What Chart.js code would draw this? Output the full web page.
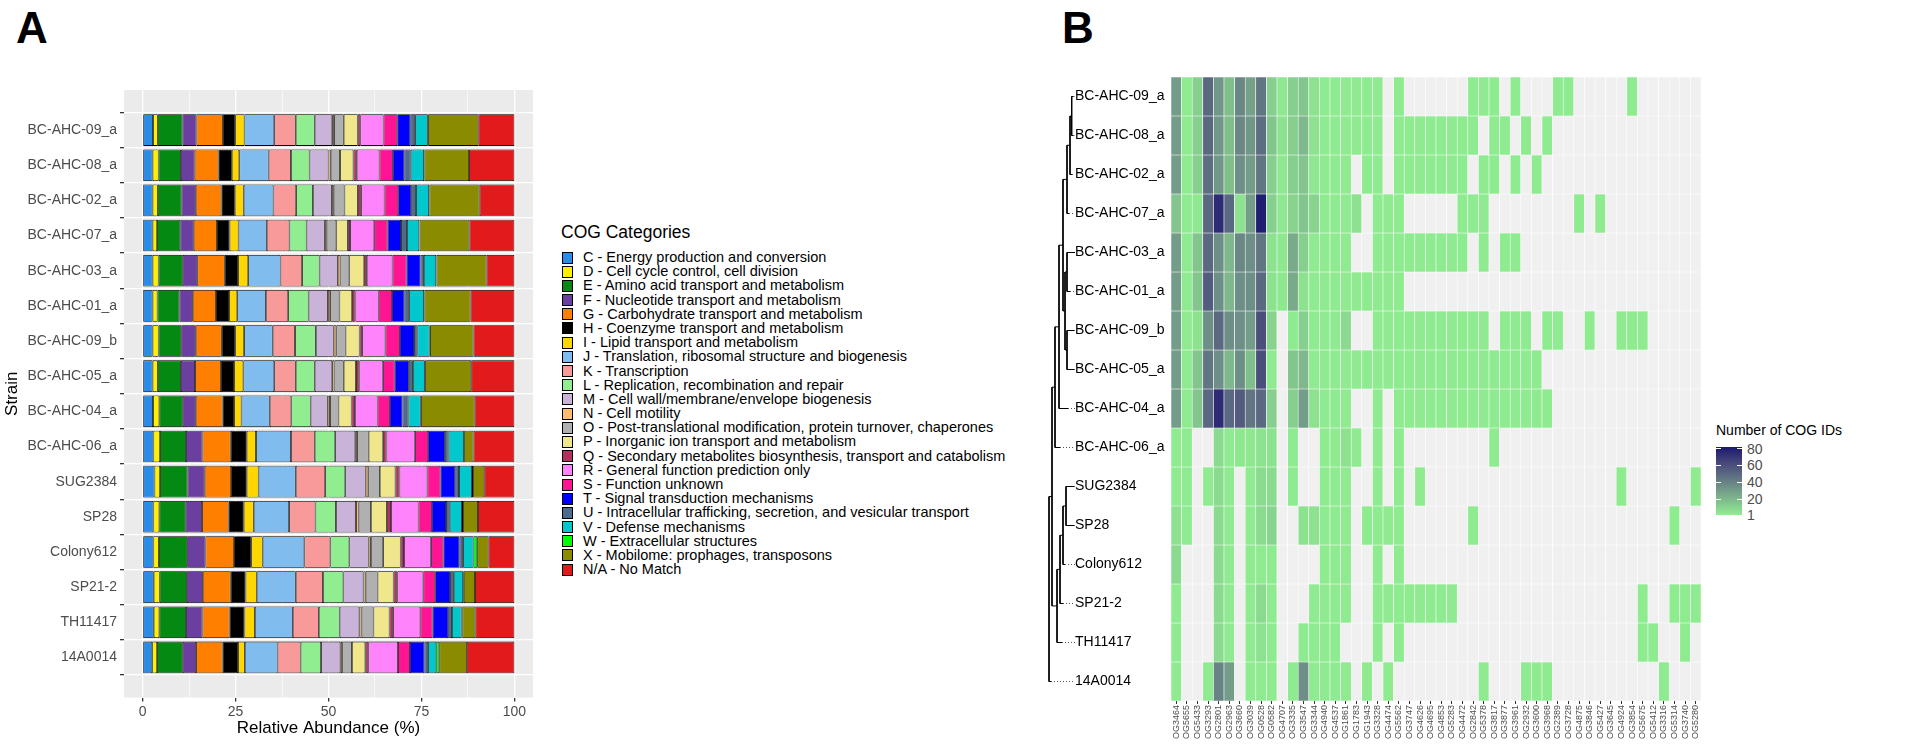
<!DOCTYPE html>
<html>
<head>
<meta charset="utf-8">
<title>COG categories and COG IDs per strain</title>
<style>
  body { margin: 0; background: #fff; font-family: "Liberation Sans", Arial, sans-serif; }
  #page { position: relative; width: 1907px; height: 751px; overflow: hidden; }
  canvas { position: absolute; top: 0; }
  .tag { position: absolute; font-weight: bold; font-size: 44px; line-height: 44px; }
  #legend { position: absolute; left: 561px; top: 221px; }
  #legend .ttl { font-size: 17.5px; line-height: 22px; margin-bottom: 7px; }
  #legend .item { position: relative; height: 14.2px; font-size: 14.5px; line-height: 14.2px; padding-left: 22px; white-space: nowrap; }
  #legend .sw { position: absolute; left: 1px; top: 1.5px; width: 9px; height: 10px; border: 0.8px solid #000; }
  #cbar { position: absolute; }
  .cbl { position: absolute; font-size: 14px; line-height: 14px; color: #4d4d4d; }
</style>
</head>
<body>
<div id="page">
  <div class="tag" style="left:16px; top:6px;">A</div>
  <div class="tag" style="left:1062px; top:6px;">B</div>
  <canvas id="barChart" width="545" height="751" style="left:0px;"></canvas>
  <div id="legend"></div>
  <canvas id="treeChart" width="40" height="751" style="left:1040px;"></canvas>
  <canvas id="heatChart" width="640" height="751" style="left:1070px;"></canvas>
  <div id="cbarBox"></div>
</div>

<script src="https://cdn.jsdelivr.net/npm/chart.js"></script>
<script>
  // strains, top to bottom
  var strains = ['BC-AHC-09_a', 'BC-AHC-08_a', 'BC-AHC-02_a', 'BC-AHC-07_a', 'BC-AHC-03_a', 'BC-AHC-01_a',
                 'BC-AHC-09_b', 'BC-AHC-05_a', 'BC-AHC-04_a', 'BC-AHC-06_a', 'SUG2384', 'SP28',
                 'Colony612', 'SP21-2', 'TH11417', '14A0014'];

  var cogNames = [
    'C - Energy production and conversion',
    'D - Cell cycle control, cell division',
    'E - Amino acid transport and metabolism',
    'F - Nucleotide transport and metabolism',
    'G - Carbohydrate transport and metabolism',
    'H - Coenzyme transport and metabolism',
    'I - Lipid transport and metabolism',
    'J - Translation, ribosomal structure and biogenesis',
    'K - Transcription',
    'L - Replication, recombination and repair',
    'M - Cell wall/membrane/envelope biogenesis',
    'N - Cell motility',
    'O - Post-translational modification, protein turnover, chaperones',
    'P - Inorganic ion transport and metabolism',
    'Q - Secondary metabolites biosynthesis, transport and catabolism',
    'R - General function prediction only',
    'S - Function unknown',
    'T - Signal transduction mechanisms',
    'U - Intracellular trafficking, secretion, and vesicular transport',
    'V - Defense mechanisms',
    'W - Extracellular structures',
    'X - Mobilome: prophages, transposons',
    'N/A - No Match'
  ];

  var cogColors = ['#2b8ce8', '#fff000', '#048a12', '#6b3fa0', '#ff8000', '#000000', '#ffd700', '#80bdee',
                   '#f8999a', '#90ee90', '#c9b3d9', '#fdbf6f', '#b0b0b0', '#f0e68c', '#b03060', '#ff83fa',
                   '#ff1493', '#0000ff', '#4d6b8c', '#00c8cc', '#00ff00', '#8b8b00', '#e31a1c'];

  // relative abundance (%) per strain, in the order of cogNames
  var abundance = [
    [2.8, 1.3, 6.6, 3.8, 7.1, 3.3, 2.5, 8.0, 5.8, 5.1, 4.7, 0.5, 2.6, 3.75, 0.7, 6.25, 3.7, 3.5, 1.3, 3.4, 0.1, 13.5, 9.7],
    [2.7, 1.6, 6.0, 3.7, 6.4, 3.6, 2.0, 7.9, 6.0, 5.0, 5.1, 0.6, 2.5, 3.6, 0.9, 6.1, 3.6, 3.1, 1.7, 3.6, 0.1, 12.0, 12.2],
    [2.7, 1.4, 6.4, 3.8, 6.9, 3.6, 2.4, 8.0, 6.1, 4.5, 5.1, 0.5, 2.9, 3.6, 0.9, 6.25, 3.7, 3.5, 1.3, 3.5, 0.1, 13.5, 9.35],
    [2.7, 1.2, 6.25, 3.6, 6.25, 3.4, 2.4, 7.6, 6.1, 4.6, 4.9, 0.5, 2.6, 3.1, 0.6, 6.5, 3.6, 3.6, 1.6, 3.3, 0.1, 13.4, 12.1],
    [2.7, 1.6, 6.5, 3.9, 7.4, 3.6, 2.7, 8.7, 5.8, 4.7, 4.9, 0.7, 2.4, 4.0, 0.7, 6.9, 3.8, 3.75, 0.9, 3.3, 0.1, 13.45, 7.5],
    [2.7, 1.3, 5.9, 3.6, 6.25, 3.5, 2.2, 7.7, 6.0, 5.5, 5.2, 0.6, 2.5, 3.4, 0.9, 6.25, 3.6, 3.3, 1.3, 4.0, 0.1, 12.4, 11.8],
    [2.7, 1.6, 6.1, 3.9, 7.0, 3.6, 2.4, 7.7, 6.0, 5.6, 4.8, 0.7, 2.5, 3.75, 0.7, 6.25, 3.9, 3.8, 0.9, 3.3, 0.1, 11.7, 11.0],
    [2.7, 1.4, 6.2, 3.8, 7.0, 3.5, 2.5, 8.3, 5.8, 5.1, 4.7, 0.6, 2.5, 3.3, 0.9, 6.4, 3.1, 3.8, 1.1, 3.2, 0.1, 12.4, 11.6],
    [2.8, 1.7, 6.3, 3.5, 7.2, 3.1, 2.0, 7.6, 5.8, 5.2, 4.6, 0.6, 2.3, 3.5, 0.9, 6.1, 3.3, 3.4, 1.6, 3.3, 0.1, 14.4, 10.7],
    [2.9, 1.8, 7.0, 4.4, 7.6, 4.3, 2.5, 9.4, 6.4, 5.5, 5.4, 0.5, 3.1, 3.9, 0.9, 7.7, 3.5, 4.5, 1.0, 4.1, 0.1, 2.5, 11.0],
    [3.2, 1.5, 7.4, 4.6, 7.1, 4.2, 3.2, 10.0, 7.9, 5.4, 5.5, 0.7, 3.1, 4.2, 1.1, 7.5, 3.5, 4.0, 1.0, 3.5, 0.3, 3.0, 8.1],
    [2.9, 1.6, 7.1, 4.4, 7.1, 4.1, 2.7, 9.5, 7.1, 5.5, 5.4, 0.7, 3.3, 4.3, 1.1, 7.4, 3.6, 3.8, 1.0, 3.3, 0.3, 4.0, 9.8],
    [2.9, 1.5, 7.6, 4.9, 7.7, 4.6, 3.1, 11.2, 7.0, 5.1, 5.2, 0.6, 3.3, 4.7, 0.9, 7.3, 3.3, 4.3, 1.0, 2.8, 1.0, 3.0, 7.0],
    [3.0, 1.6, 7.3, 4.3, 7.5, 4.0, 3.0, 10.5, 7.3, 5.5, 5.4, 0.6, 3.2, 4.3, 1.0, 7.0, 3.2, 4.0, 1.0, 2.5, 0.2, 3.0, 10.6],
    [3.0, 1.5, 7.2, 4.4, 7.3, 4.0, 2.8, 10.2, 7.0, 5.6, 5.3, 0.6, 3.2, 4.3, 1.0, 7.3, 3.3, 4.2, 1.0, 2.6, 0.2, 3.5, 10.5],
    [2.6, 1.3, 6.9, 3.6, 7.1, 4.2, 1.8, 8.8, 6.2, 5.5, 5.2, 0.5, 2.6, 3.6, 0.8, 8.0, 3.2, 3.9, 1.0, 2.2, 0.8, 7.4, 12.8]
  ];

  var xTicksA = [0, 12.5, 25, 37.5, 50, 62.5, 75, 87.5, 100];
  var xLabelsA = [0, 25, 50, 75, 100];

  // heatmap columns
  var ogIds = ['OG3464', 'OG5655', 'OG5433', 'OG3293', 'OG2801', 'OG2963', 'OG3660', 'OG3039', 'OG0528', 'OG0582',
               'OG4707', 'OG3335', 'OG3547', 'OG3344', 'OG4940', 'OG4537', 'OG1861', 'OG1783', 'OG1943', 'OG3328',
               'OG4474', 'OG5562', 'OG3747', 'OG4626', 'OG4695', 'OG4853', 'OG5283', 'OG4472', 'OG2842', 'OG5378',
               'OG3817', 'OG3877', 'OG3961', 'OG2932', 'OG3600', 'OG3968', 'OG2389', 'OG3728', 'OG4875', 'OG3846',
               'OG5427', 'OG3645', 'OG4924', 'OG3854', 'OG5675', 'OG5412', 'OG3316', 'OG5314', 'OG3740', 'OG5280'];

  // number of COG IDs per strain (rows) and orthogroup (columns); 0 = absent
  var ogCounts = [
    [30, 2, 12, 50, 32, 18, 38, 28, 45, 12, 3, 12, 15, 5, 2, 2, 2, 2, 2, 2, 0, 2, 0, 0, 0,   0, 0, 0, 2, 2, 2, 0, 2, 0, 0, 0, 2, 2, 0, 0, 0, 0, 0, 2, 0, 0, 0, 0, 0, 0],
    [30, 2, 12, 50, 32, 18, 38, 32, 48, 15, 5, 12, 20, 5, 2, 2, 2, 2, 2, 2, 0, 2, 2, 2, 2,   2, 2, 2, 2, 0, 2, 2, 0, 2, 0, 2, 0, 0, 0, 0, 0, 0, 0, 0, 0, 0, 0, 0, 0, 0],
    [30, 2, 12, 48, 32, 18, 35, 30, 45, 12, 3, 12, 15, 3, 2, 2, 2, 0, 2, 2, 0, 2, 2, 2, 2,   2, 2, 2, 0, 2, 2, 0, 2, 0, 2, 0, 0, 0, 0, 0, 0, 0, 0, 0, 0, 0, 0, 0, 0, 0],
    [15, 2, 3, 50, 75, 50, 5, 30, 80, 12, 3, 10, 15, 10, 2, 2, 2, 5, 0, 2, 2, 2, 0, 0, 0,    0, 0, 2, 2, 2, 0, 0, 0, 0, 0, 0, 0, 0, 2, 0, 2, 0, 0, 0, 0, 0, 0, 0, 0, 0],
    [30, 2, 15, 50, 35, 20, 38, 35, 45, 5, 3, 25, 12, 2, 2, 2, 2, 0, 0, 2, 2, 2, 2, 2, 2,    2, 2, 2, 0, 2, 0, 2, 2, 0, 0, 0, 0, 0, 0, 0, 0, 0, 0, 0, 0, 0, 0, 0, 0, 0],
    [30, 2, 15, 55, 35, 20, 35, 35, 50, 5, 3, 25, 5, 2, 2, 2, 2, 2, 2, 2, 2, 2, 0, 0, 0,     0, 0, 0, 0, 0, 0, 0, 0, 0, 0, 0, 0, 0, 0, 0, 0, 0, 0, 0, 0, 0, 0, 0, 0, 0],
    [30, 2, 5, 35, 50, 35, 35, 30, 60, 10, 0, 2, 12, 2, 2, 2, 8, 0, 0, 2, 2, 2, 2, 2, 2,     2, 2, 2, 2, 2, 0, 2, 2, 2, 0, 2, 2, 0, 0, 2, 0, 0, 2, 2, 2, 0, 0, 0, 0, 0],
    [30, 2, 15, 45, 35, 20, 35, 18, 60, 2, 0, 15, 20, 2, 2, 2, 2, 2, 2, 2, 2, 2, 2, 2, 2,    2, 2, 2, 2, 2, 2, 2, 2, 2, 2, 0, 0, 0, 0, 0, 0, 0, 0, 0, 0, 0, 0, 0, 0, 0],
    [30, 2, 15, 50, 75, 50, 55, 45, 50, 12, 0, 12, 30, 5, 2, 2, 2, 0, 0, 2, 0, 2, 2, 2, 2,   2, 2, 2, 2, 2, 2, 2, 2, 2, 2, 2, 0, 0, 0, 0, 0, 0, 0, 0, 0, 0, 0, 0, 0, 0],
    [2, 2, 0, 0, 8, 2, 3, 3, 5, 5, 0, 2, 0, 0, 2, 2, 5, 2, 0, 2, 0, 2, 0, 0, 0,              0, 0, 0, 0, 0, 2, 0, 0, 0, 0, 0, 0, 0, 0, 0, 0, 0, 0, 0, 0, 0, 0, 0, 0, 0],
    [2, 2, 0, 2, 8, 2, 0, 2, 8, 8, 0, 2, 0, 0, 2, 2, 2, 0, 0, 2, 0, 2, 0, 2, 0,              0, 0, 0, 0, 0, 0, 0, 0, 0, 0, 0, 0, 0, 0, 0, 0, 0, 2, 0, 0, 0, 0, 0, 0, 2],
    [5, 2, 0, 0, 8, 2, 0, 2, 8, 10, 0, 0, 5, 5, 2, 2, 2, 0, 2, 2, 2, 2, 0, 0, 0,             0, 0, 0, 2, 0, 0, 0, 0, 0, 0, 0, 0, 0, 0, 0, 0, 0, 0, 0, 0, 0, 0, 2, 0, 0],
    [8, 0, 0, 0, 8, 2, 0, 2, 2, 2, 0, 0, 0, 0, 2, 2, 2, 0, 0, 2, 0, 2, 0, 0, 0,              0, 0, 0, 0, 0, 0, 0, 0, 0, 0, 0, 0, 0, 0, 0, 0, 0, 0, 0, 0, 0, 0, 0, 0, 0],
    [2, 0, 0, 0, 8, 2, 0, 2, 8, 2, 0, 0, 0, 2, 2, 2, 2, 0, 0, 2, 2, 2, 2, 2, 2,              2, 2, 0, 0, 0, 0, 0, 0, 0, 0, 0, 0, 0, 0, 0, 0, 0, 0, 0, 2, 0, 0, 2, 2, 2],
    [2, 0, 0, 0, 8, 2, 0, 2, 5, 2, 0, 0, 2, 2, 2, 2, 0, 0, 0, 2, 0, 2, 0, 0, 0,              0, 0, 0, 0, 0, 0, 0, 0, 0, 0, 0, 0, 0, 0, 0, 0, 0, 0, 0, 2, 2, 0, 0, 2, 0],
    [2, 0, 0, 2, 40, 30, 0, 2, 2, 2, 0, 2, 35, 2, 2, 2, 2, 0, 2, 0, 2, 0, 0, 0, 0,           0, 0, 0, 0, 2, 0, 0, 0, 2, 2, 2, 0, 0, 0, 0, 0, 0, 0, 0, 0, 0, 2, 0, 0, 0]
  ];
  var countLimits = [1, 82];
  var countBreaks = [1, 20, 40, 60, 80];

  // tree: merges in hclust style (negative = leaf number, positive = earlier merge), with node depth
  var treeMerge = [[-1, -2], [1, -3], [2, -4], [-5, -6], [-7, -8], [4, 5], [3, 6], [7, -9], [8, -10],
                   [-11, -12], [10, -13], [11, -14], [12, -15], [9, 13], [14, -16]];
  var treeDepth = [23.7, 22, 19, 19, 19, 17, 15, 11, 7, 18, 15, 12, 9, 4, 1];
  var tipDepth = [25.5, 25.5, 24, 21, 27, 22, 26.5, 26.5, 20, 12, 26.5, 26.5, 17, 15, 14, 3];
  var labelDepth = 27;

  Chart.defaults.font.family = '"Liberation Sans", Arial, sans-serif';
  Chart.defaults.color = '#4d4d4d';

  // ---------- legend for panel A ----------
  var legend = document.getElementById('legend');
  var html = '<div class="ttl">COG Categories</div>';
  cogNames.forEach(function (name, k) {
    html += '<div class="item"><span class="sw" style="background:' + cogColors[k] + '"></span>' + name + '</div>';
  });
  legend.innerHTML = html;

  // ---------- panel A : stacked bars ----------
  const panelBg = {
    id: 'panelBg',
    beforeDraw(chart, args, opts) {
      const a = chart.chartArea, ctx = chart.ctx;
      ctx.save();
      ctx.fillStyle = opts.color;
      ctx.fillRect(a.left, a.top, a.right - a.left, a.bottom - a.top);
      ctx.restore();
    }
  };

  new Chart(document.getElementById('barChart'), {
    type: 'bar',
    data: {
      datasets: cogNames.map(function (name, k) {
        return {
          label: name,
          data: strains.map(function (s, i) { return { x: abundance[i][k], y: i }; }),
          backgroundColor: cogColors[k],
          borderColor: '#000000',
          borderWidth: 0.8,
          borderSkipped: false,
          barPercentage: 0.9,
          categoryPercentage: 1
        };
      })
    },
    options: {
      indexAxis: 'y',
      responsive: false,
      animation: false,
      layout: { padding: { top: 90, right: 12, left: 0, bottom: 0 } },
      plugins: { legend: { display: false }, tooltip: { enabled: false }, panelBg: { color: '#ebebeb' } },
      scales: {
        x: {
          type: 'linear', stacked: true, min: -5, max: 105,
          afterBuildTicks: function (ax) { ax.ticks = xTicksA.map(function (v) { return { value: v }; }); },
          afterFit: function (ax) { ax.height = 751 - 697.5; },
          border: { display: false },
          grid: {
            color: '#ffffff',
            lineWidth: function (c) { return xLabelsA.indexOf(c.tick.value) >= 0 ? 1.3 : 0.6; },
            tickColor: function (c) { return xLabelsA.indexOf(c.tick.value) >= 0 ? '#333333' : 'rgba(0,0,0,0)'; },
            tickLength: 4
          },
          ticks: {
            autoSkip: false, maxRotation: 0, padding: 2, color: '#4d4d4d', font: { size: 14 },
            callback: function (v) { return xLabelsA.indexOf(v) >= 0 ? v : ''; }
          },
          title: { display: true, text: 'Relative Abundance (%)', color: '#000', font: { size: 17 }, padding: { top: 2, bottom: 12 } }
        },
        y: {
          type: 'linear', stacked: true, reverse: true, min: -0.6, max: 15.6,
          afterBuildTicks: function (ax) { ax.ticks = strains.map(function (s, i) { return { value: i }; }); },
          afterFit: function (ax) { ax.width = 124; },
          border: { display: false },
          grid: { color: '#ffffff', lineWidth: 1.3, tickColor: '#333333', tickLength: 4 },
          ticks: { color: '#4d4d4d', font: { size: 14 }, padding: 3, callback: function (v) { return strains[v]; } },
          title: { display: true, text: 'Strain', color: '#000', font: { size: 17 }, padding: { top: 2, bottom: 0 } }
        }
      }
    },
    plugins: [panelBg]
  });

  // ---------- colour scale (Lab interpolation, lightgreen -> midnightblue) ----------
  function hexToRgb(h) { return [1, 3, 5].map(function (i) { return parseInt(h.substr(i, 2), 16); }); }
  function rgbToLab(c) {
    var lin = function (v) { v /= 255; return v <= 0.04045 ? v / 12.92 : Math.pow((v + 0.055) / 1.055, 2.4); };
    var R = lin(c[0]), G = lin(c[1]), B = lin(c[2]);
    var X = (R * 0.4124 + G * 0.3576 + B * 0.1805) / 0.95047;
    var Y = R * 0.2126 + G * 0.7152 + B * 0.0722;
    var Z = (R * 0.0193 + G * 0.1192 + B * 0.9505) / 1.08883;
    var f = function (t) { return t > 0.008856 ? Math.cbrt(t) : 7.787 * t + 16 / 116; };
    return [116 * f(Y) - 16, 500 * (f(X) - f(Y)), 200 * (f(Y) - f(Z))];
  }
  function labToRgb(l) {
    var fy = (l[0] + 16) / 116, fx = fy + l[1] / 500, fz = fy - l[2] / 200;
    var inv = function (t) { return t * t * t > 0.008856 ? t * t * t : (t - 16 / 116) / 7.787; };
    var X = inv(fx) * 0.95047, Y = inv(fy), Z = inv(fz) * 1.08883;
    var R = X * 3.2406 - Y * 1.5372 - Z * 0.4986;
    var G = -X * 0.9689 + Y * 1.8758 + Z * 0.0415;
    var B = X * 0.0557 - Y * 0.2040 + Z * 1.0570;
    var gam = function (v) { v = v <= 0.0031308 ? 12.92 * v : 1.055 * Math.pow(v, 1 / 2.4) - 0.055; return Math.round(Math.min(1, Math.max(0, v)) * 255); };
    return [gam(R), gam(G), gam(B)];
  }
  var labLow = rgbToLab(hexToRgb('#90ee90'));
  var labHigh = rgbToLab(hexToRgb('#191970'));
  function countColor(v) {
    if (!v) return '#f0f0f0';
    var t = Math.min(1, Math.max(0, (v - countLimits[0]) / (countLimits[1] - countLimits[0])));
    var rgb = labToRgb([0, 1, 2].map(function (i) { return labLow[i] + (labHigh[i] - labLow[i]) * t; }));
    return 'rgb(' + rgb.join(',') + ')';
  }

  // ---------- panel B : heatmap ----------
  new Chart(document.getElementById('heatChart'), {
    type: 'bar',
    data: {
      labels: ogIds,
      datasets: strains.map(function (s, r) {
        return {
          label: s,
          data: ogIds.map(function () { return [r, r + 1]; }),
          backgroundColor: ogCounts[r].map(countColor),
          borderColor: '#ffffff',
          borderWidth: 0.6,
          borderSkipped: false,
          grouped: false,
          barPercentage: 1,
          categoryPercentage: 1
        };
      })
    },
    options: {
      responsive: false,
      animation: false,
      layout: { padding: { left: 5, top: 77, right: 9, bottom: 0 } },
      plugins: { legend: { display: false }, tooltip: { enabled: false } },
      scales: {
        x: {
          afterFit: function (ax) { ax.height = 50; },
          border: { display: false },
          grid: { offset: false, drawOnChartArea: false, tickColor: '#333333', tickLength: 3 },
          ticks: { autoSkip: false, minRotation: 90, maxRotation: 90, padding: 1, color: '#4d4d4d', font: { size: 9 } }
        },
        y: {
          type: 'linear', min: 0, max: 16, reverse: true,
          afterBuildTicks: function (ax) { ax.ticks = strains.map(function (s, i) { return { value: i + 0.5 }; }); },
          afterFit: function (ax) { ax.width = 96; },
          border: { display: false },
          grid: { display: false },
          ticks: { crossAlign: 'far', color: '#000', font: { size: 14 }, callback: function (v) { return strains[Math.floor(v)]; } }
        }
      }
    }
  });

  // ---------- dendrogram ----------
  var nodeY = [], solid = [], dotted = [];
  function childY(id) { return id < 0 ? -id - 1 : nodeY[id - 1]; }
  function childDepth(id) { return id < 0 ? tipDepth[-id - 1] : treeDepth[id - 1]; }
  treeMerge.forEach(function (m, n) {
    var ya = childY(m[0]), yb = childY(m[1]), d = treeDepth[n];
    nodeY[n] = (ya + yb) / 2;
    solid.push({ x: d, y: ya }, { x: d, y: yb }, { x: null, y: null });
    solid.push({ x: d, y: ya }, { x: childDepth(m[0]), y: ya }, { x: null, y: null });
    solid.push({ x: d, y: yb }, { x: childDepth(m[1]), y: yb }, { x: null, y: null });
  });
  tipDepth.forEach(function (t, i) {
    if (t < labelDepth) dotted.push({ x: t, y: i }, { x: labelDepth, y: i }, { x: null, y: null });
  });

  new Chart(document.getElementById('treeChart'), {
    type: 'scatter',
    data: {
      datasets: [
        { data: solid, showLine: true, spanGaps: false, borderColor: '#000', borderWidth: 1, pointRadius: 0, clip: false },
        { data: dotted, showLine: true, spanGaps: false, borderColor: '#555', borderWidth: 1, borderDash: [1, 2], pointRadius: 0, clip: false }
      ]
    },
    options: {
      responsive: false,
      animation: false,
      layout: { padding: { left: 8, right: 5, top: 77 + 19.5, bottom: 50 + 19.5 } },
      plugins: { legend: { display: false }, tooltip: { enabled: false } },
      scales: {
        x: { type: 'linear', display: false, min: 0, max: labelDepth },
        y: { type: 'linear', display: false, min: 0, max: strains.length - 1, reverse: true }
      }
    }
  });

  // ---------- colour bar ----------
  (function () {
    var box = document.getElementById('cbarBox');
    var left = 1716, top = 447, w = 26, h = 68;
    var stops = [];
    for (var i = 0; i <= 10; i++) {
      var v = countLimits[1] - (countLimits[1] - countLimits[0]) * i / 10;
      stops.push(countColor(v) + ' ' + (i * 10) + '%');
    }
    var out = '<div class="cbl" style="left:' + left + 'px; top:' + (top - 24) + 'px; color:#000; font-size:14px;">Number of COG IDs</div>';
    out += '<div id="cbar" style="left:' + left + 'px; top:' + top + 'px; width:' + w + 'px; height:' + h + 'px; background:linear-gradient(' + stops.join(',') + ');"></div>';
    countBreaks.forEach(function (b) {
      var y = top + h * (countLimits[1] - b) / (countLimits[1] - countLimits[0]);
      out += '<div style="position:absolute; left:' + left + 'px; top:' + (y - 0.5) + 'px; width:5px; height:1px; background:#fff;"></div>';
      out += '<div style="position:absolute; left:' + (left + w - 5) + 'px; top:' + (y - 0.5) + 'px; width:5px; height:1px; background:#fff;"></div>';
      out += '<div class="cbl" style="left:' + (left + w + 5) + 'px; top:' + (y - 7) + 'px;">' + b + '</div>';
    });
    box.innerHTML = out;
  })();
</script>
</body>
</html>
